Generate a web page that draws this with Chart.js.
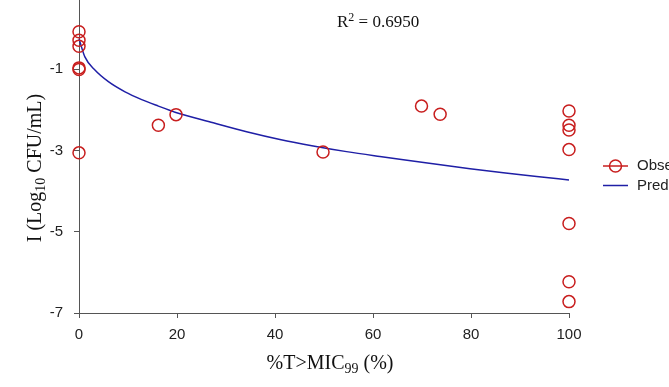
<!DOCTYPE html>
<html>
<head>
<meta charset="utf-8">
<script src="https://cdn.jsdelivr.net/npm/chart.js@4.4.1/dist/chart.umd.min.js"></script>
<style>
  html, body { margin: 0; padding: 0; background: #fff; overflow: hidden; }
  #wrap { width: 669px; height: 387px; }
</style>
</head>
<body>
<div id="wrap"><canvas id="chart" width="669" height="387"></canvas></div>
<script>
// observed points (%T>MIC99 vs log change)
const obsX = [0, 0, 0, 0, 0, 0, 16.2, 19.8, 49.8, 69.9, 73.7, 100, 100, 100, 100, 100, 100, 100];
const obsY = [-0.08, -0.29, -0.44, -0.97, -1.01, -3.06, -2.38, -2.12, -3.04, -1.91, -2.11, -2.03, -2.38, -2.50, -2.98, -4.80, -6.23, -6.72];

// predicted curve
const predX = [0, 1.2, 3.3, 6, 9.4, 12.8, 16.2, 19.6, 27.4, 34.2, 41, 47.8, 54.6, 61.4, 66.2, 73, 79.8, 86.6, 93.4, 100];
const predY = [-0.25, -0.70, -1.03, -1.31, -1.56, -1.75, -1.91, -2.06, -2.32, -2.54, -2.73, -2.89, -3.03, -3.15, -3.23, -3.34, -3.45, -3.55, -3.64, -3.73];

const xTicks = [0, 20, 40, 60, 80, 100];
const yTicks = [-7, -5, -3, -1];

const RED = '#c81e1e';
const BLUE = '#1f1fa6';
const AXIS = '#555';
const sans = '"Liberation Sans", Arial, sans-serif';
const serif = '"Liberation Serif", "Times New Roman", serif';

// text with sub/superscripts, parts = [[text, 'n'|'sub'|'sup'], ...]
function drawRich(ctx, parts, x, y, size) {
  let cx = x;
  parts.forEach(([t, kind]) => {
    const s = kind === 'n' ? size : Math.round(size * 0.68);
    const dy = kind === 'sub' ? size * 0.22 : kind === 'sup' ? -size * 0.36 : 0;
    ctx.font = s + 'px ' + serif;
    ctx.fillText(t, cx, y + dy);
    cx += ctx.measureText(t).width;
  });
  return cx - x;
}
function richWidth(ctx, parts, size) {
  let w = 0;
  parts.forEach(([t, kind]) => {
    const s = kind === 'n' ? size : Math.round(size * 0.68);
    ctx.font = s + 'px ' + serif;
    w += ctx.measureText(t).width;
  });
  return w;
}

const extras = {
  id: 'extras',
  afterDraw(chart) {
    const ctx = chart.ctx;
    ctx.save();
    ctx.fillStyle = '#111';
    ctx.textBaseline = 'alphabetic';
    ctx.textAlign = 'left';

    // R squared
    drawRich(ctx, [['R', 'n'], ['2', 'sup'], [' = 0.6950', 'n']], 337, 27, 17);

    // x title
    const xt = [['%T>MIC', 'n'], ['99', 'sub'], [' (%)', 'n']];
    const xw = richWidth(ctx, xt, 20);
    drawRich(ctx, xt, 330 - xw / 2, 369, 20);

    // y title
    const yt = [['I (Log', 'n'], ['10', 'sub'], [' CFU/mL)', 'n']];
    const yw = richWidth(ctx, yt, 20);
    ctx.save();
    ctx.translate(41, 168);
    ctx.rotate(-Math.PI / 2);
    drawRich(ctx, yt, -yw / 2, 0, 20);
    ctx.restore();

    // legend
    ctx.lineWidth = 1.5;
    ctx.strokeStyle = RED;
    ctx.beginPath();
    ctx.moveTo(603, 166); ctx.lineTo(628, 166);
    ctx.stroke();
    ctx.beginPath();
    ctx.arc(615.5, 166, 6, 0, Math.PI * 2);
    ctx.stroke();
    ctx.strokeStyle = BLUE;
    ctx.beginPath();
    ctx.moveTo(603, 185.5); ctx.lineTo(628, 185.5);
    ctx.stroke();
    ctx.font = '15px ' + sans;
    ctx.fillStyle = '#222';
    ctx.textBaseline = 'middle';
    ctx.fillText('Observed', 637, 166);
    ctx.fillText('Predicted', 637, 185.5);
    ctx.restore();
  }
};

new Chart(document.getElementById('chart'), {
  type: 'scatter',
  data: {
    datasets: [
      {
        label: 'Observed',
        data: obsX.map((x, i) => ({ x: x, y: obsY[i] })),
        showLine: false,
        pointStyle: 'circle',
        pointRadius: 6,
        pointBorderWidth: 1.5,
        pointBackgroundColor: 'rgba(0,0,0,0)',
        pointBorderColor: RED,
        clip: false,
        order: 1
      },
      {
        label: 'Predicted',
        data: predX.map((x, i) => ({ x: x, y: predY[i] })),
        showLine: true,
        pointRadius: 0,
        borderColor: BLUE,
        borderWidth: 1.5,
        cubicInterpolationMode: 'monotone',
        clip: false,
        order: 2
      }
    ]
  },
  options: {
    responsive: false,
    animation: false,
    devicePixelRatio: 1,
    layout: { autoPadding: false, padding: { left: 0, right: 100, top: 0, bottom: 0 } },
    plugins: {
      legend: { display: false },
      tooltip: { enabled: false }
    },
    scales: {
      x: {
        type: 'linear',
        min: 0,
        max: 100,
        afterBuildTicks: s => { s.ticks = xTicks.map(v => ({ value: v })); },
        afterFit: s => { s.height = 74; s.paddingLeft = 0; s.paddingRight = 0; },
        ticks: { font: { size: 15, family: sans }, color: '#222', padding: 8, maxRotation: 0 },
        grid: { display: true, drawOnChartArea: false, drawTicks: true, tickLength: 5, color: AXIS },
        border: { display: true, color: AXIS, width: 1 }
      },
      y: {
        min: -7,
        max: 0.7,
        afterBuildTicks: s => { s.ticks = yTicks.map(v => ({ value: v })); },
        afterFit: s => { s.width = 79; s.paddingTop = 0; s.paddingBottom = 0; },
        ticks: { font: { size: 15, family: sans }, color: '#222', padding: 11 },
        grid: { display: true, drawOnChartArea: false, drawTicks: true, tickLength: 5, color: AXIS },
        border: { display: true, color: AXIS, width: 1 }
      }
    }
  },
  plugins: [extras]
});
</script>
</body>
</html>
